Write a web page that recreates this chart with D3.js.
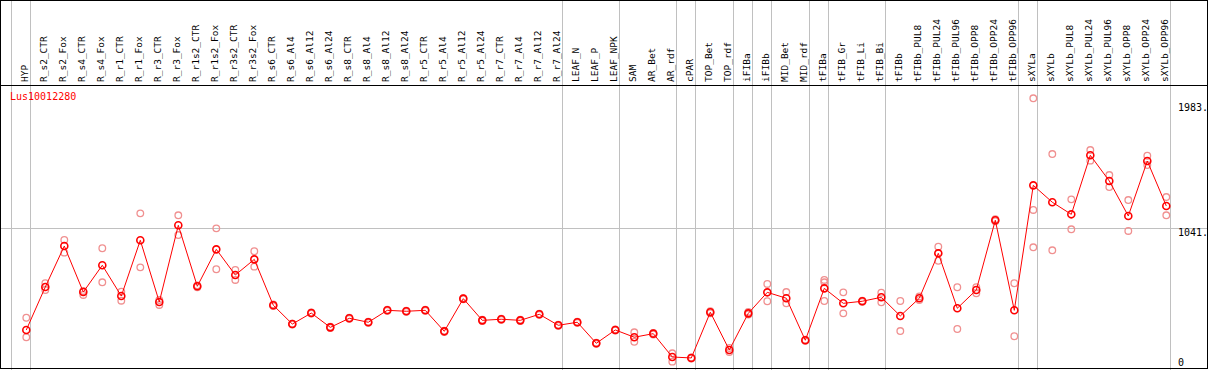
<!DOCTYPE html>
<html>
<head>
<meta charset="utf-8">
<script src="https://cdn.jsdelivr.net/npm/d3@7"></script>
<style>
  body { margin: 0; background: #fff; }
  svg { display: block; }
</style>
</head>
<body>
<div id="chart"></div>
<script>
var geneName = "Lus10012280";

var samples = [
  "HYP", "R_s2_CTR", "R_s2_Fox", "R_s4_CTR", "R_s4_Fox", "R_r1_CTR", "R_r1_Fox",
  "R_r3_CTR", "R_r3_Fox", "R_r1s2_CTR", "R_r1s2_Fox", "R_r3s2_CTR", "R_r3s2_Fox",
  "R_s6_CTR", "R_s6_Al4", "R_s6_Al12", "R_s6_Al24", "R_s8_CTR", "R_s8_Al4",
  "R_s8_Al12", "R_s8_Al24", "R_r5_CTR", "R_r5_Al4", "R_r5_Al12", "R_r5_Al24",
  "R_r7_CTR", "R_r7_Al4", "R_r7_Al12", "R_r7_Al24", "LEAF_N", "LEAF_P", "LEAF_NPK",
  "SAM", "AR_Bet", "AR_rdf", "cPAR", "TOP_Bet", "TOP_rdf", "iFIBa", "iFIBb",
  "MID_Bet", "MID_rdf", "tFIBa", "tFIB_Gr", "tFIB_Li", "tFIB_Bi", "tFIBb",
  "tFIBb_PUL8", "tFIBb_PUL24", "tFIBb_PUL96", "tFIBb_OPP8", "tFIBb_OPP24",
  "tFIBb_OPP96", "sXYLa", "sXYLb", "sXYLb_PUL8", "sXYLb_PUL24", "sXYLb_PUL96",
  "sXYLb_OPP8", "sXYLb_OPP24", "sXYLb_OPP96"
];

// last sample of every tissue group (a grey line is drawn after it)
var groupEnds = [
  "HYP", "R_r7_Al24", "LEAF_NPK", "AR_rdf", "cPAR", "TOP_rdf", "iFIBa", "iFIBb",
  "MID_rdf", "tFIBa", "tFIB_Bi", "tFIBb_OPP96", "sXYLa", "sXYLb_OPP96"
];

var means = [
  296, 609, 907, 572, 767, 543, 949, 500, 1058, 614, 883, 696, 810,
  476, 339, 419, 315, 381, 352, 439, 432, 439, 286, 524, 366,
  374, 366, 410, 330, 352, 199, 296,
  243, 269, 99, 92, 425, 150, 417, 570, 527, 221, 599, 490, 505, 534, 398,
  527, 854, 454, 587, 1095, 439,
  1349, 1226, 1138, 1568, 1381, 1126, 1526, 1199
];

var replicates = [
  [385, 243], [636, 587], [951, 859], [580, 551], [891, 643], [575, 509],
  [1145, 752], [514, 478], [1131, 987], [621, 607], [1036, 738], [733, 660],
  [869, 757], [470, 482], [336, 342], [415, 423], [311, 319], [377, 385],
  [348, 356], [435, 443], [428, 436], [435, 443], [282, 290], [520, 528],
  [362, 370], [370, 378], [362, 370], [406, 414], [326, 334], [348, 356],
  [195, 203], [292, 300],
  [279, 210], [274, 263], [126, 65], [88, 96], [432, 418], [165, 135],
  [427, 409], [631, 505], [572, 490], [217, 225], [660, 643, 507], [570, 417],
  [501, 509], [567, 497], [507, 288],
  [540, 514], [902, 800], [607, 303], [607, 563], [1102, 1088], [636, 250],
  [1983, 1170, 898], [1577, 876], [1247, 1029], [1606, 1529], [1424, 1337],
  [1242, 1017], [1565, 1497], [1264, 1131]
];

var tickValues = [0, 1041, 1983];
var tickLabels = ["0", "1041.", "1983."];

var width = 1209, height = 370;
var headerH = 85;
var mono = "'DejaVu Sans Mono', monospace";

var svg = d3.select("#chart").append("svg")
  .attr("width", width)
  .attr("height", height)
  .attr("font-family", mono);

var x = d3.scalePoint().domain(samples).range([26.3, 1166.3]);
var step = x.step();
var y = d3.scaleLinear().domain([0, 1983]).range([370.6, 98.3]);

// grey group separators
var sepX = [x(samples[0]) - step + 4].concat(groupEnds.map(function (s) {
  return x(s) + 4;
}));
svg.append("g")
  .selectAll("line")
  .data(sepX)
  .enter()
  .append("line")
  .attr("x1", function (d) { return Math.round(d) + 0.5; })
  .attr("x2", function (d) { return Math.round(d) + 0.5; })
  .attr("y1", 0)
  .attr("y2", height)
  .attr("stroke", "#c0c0c0")
  .attr("stroke-width", 1);

// horizontal grid line at the middle tick
svg.append("line")
  .attr("x1", 0)
  .attr("x2", width - 1)
  .attr("y1", Math.round(y(tickValues[1])) + 0.5)
  .attr("y2", Math.round(y(tickValues[1])) + 0.5)
  .attr("stroke", "#c0c0c0");

// frame and header rule
svg.append("rect")
  .attr("x", 0.5).attr("y", 0.5)
  .attr("width", width - 2).attr("height", height - 2)
  .attr("fill", "none")
  .attr("stroke", "#000");
svg.append("line")
  .attr("x1", 0).attr("x2", width - 1)
  .attr("y1", headerH + 0.5).attr("y2", headerH + 0.5)
  .attr("stroke", "#000");

// rotated sample labels
svg.append("g")
  .selectAll("text")
  .data(samples)
  .enter()
  .append("text")
  .attr("transform", function (d) {
    return "translate(" + (x(d) + 2) + "," + (headerH - 3) + ") rotate(-90)";
  })
  .attr("font-size", 9.5)
  .attr("fill", "#000")
  .text(function (d) { return d; });

// gene name
svg.append("text")
  .attr("x", 10)
  .attr("y", 100)
  .attr("font-size", 10)
  .attr("fill", "#ff0000")
  .text(geneName);

// right side value labels
svg.append("g")
  .selectAll("text")
  .data(tickValues)
  .enter()
  .append("text")
  .attr("x", 1178)
  .attr("y", function (d) {
    return Math.min(Math.max(y(d), 103), 358) + 8;
  })
  .attr("font-size", 10)
  .attr("fill", "#000")
  .text(function (d, i) { return tickLabels[i]; });

// replicate points
var reps = [];
replicates.forEach(function (r, i) {
  r.forEach(function (v) {
    reps.push({ s: samples[i], v: v });
  });
});
svg.append("g")
  .selectAll("circle")
  .data(reps)
  .enter()
  .append("circle")
  .attr("cx", function (d) { return x(d.s); })
  .attr("cy", function (d) { return y(d.v); })
  .attr("r", 3.3)
  .attr("fill", "none")
  .attr("stroke", "#f09090")
  .attr("stroke-width", 1.3);

// mean line
var line = d3.line()
  .x(function (d, i) { return x(samples[i]); })
  .y(function (d) { return y(d); });
svg.append("path")
  .datum(means)
  .attr("d", line)
  .attr("fill", "none")
  .attr("stroke", "#ff0000")
  .attr("stroke-width", 1);

svg.append("g")
  .selectAll("circle")
  .data(means)
  .enter()
  .append("circle")
  .attr("cx", function (d, i) { return x(samples[i]); })
  .attr("cy", function (d) { return y(d); })
  .attr("r", 3.5)
  .attr("fill", "none")
  .attr("stroke", "#ff0000")
  .attr("stroke-width", 1.6);
</script>
</body>
</html>
